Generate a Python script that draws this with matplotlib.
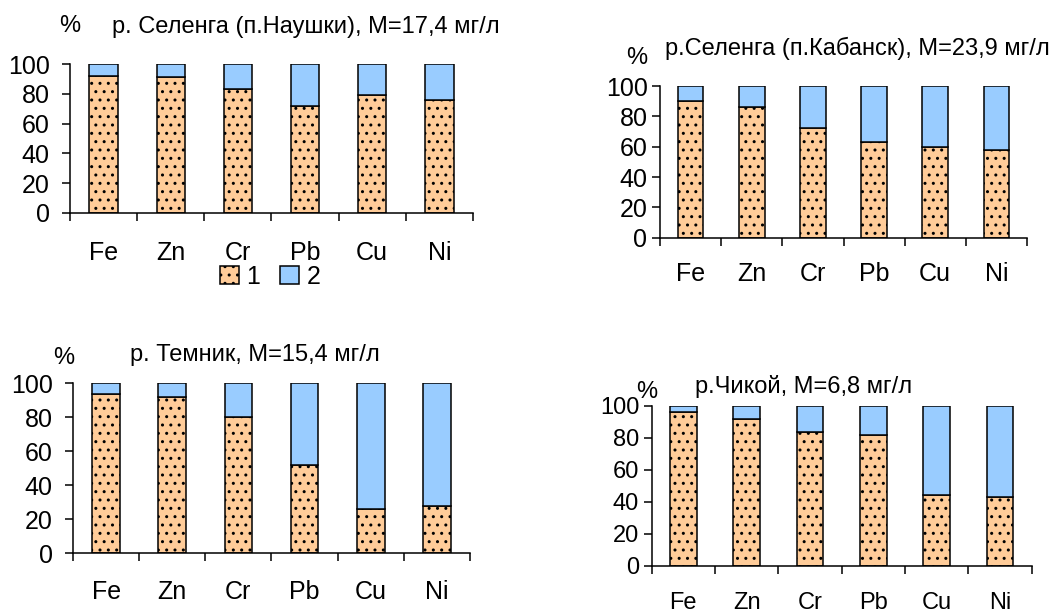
import numpy as np
import matplotlib
matplotlib.use('Agg')
import matplotlib.pyplot as plt
from matplotlib.patches import Patch

plt.rcParams['font.family'] = ['Liberation Sans', 'DejaVu Sans']
plt.rcParams['hatch.linewidth'] = 1.0

#elements on the x axis
elements = ['Fe', 'Zn', 'Cr', 'Pb', 'Cu', 'Ni']

#share of fraction 1 in %, fraction 2 is the rest up to 100
naushki1 = [92, 91, 83, 72, 79, 76]
kabansk1 = [90, 86, 72, 63, 60, 58]
temnik1 = [94, 92, 80, 52, 26, 28]
chikoy1 = [96, 92, 84, 82, 44, 43]

titles = ['р. Селенга (п.Наушки), М=17,4 мг/л',
          'р.Селенга (п.Кабанск), М=23,9 мг/л',
          'р. Темник, М=15,4 мг/л',
          'р.Чикой, М=6,8 мг/л']

legend_labels = ['1', '2']

orange = '#FFCC99'
blue = '#99CCFF'

W = 1064.0
H = 613.0

#axes boxes in pixels: left, right, top, bottom
boxes = [(70, 473, 64, 213),
         (660, 1027, 86, 237.7),
         (73, 470, 383.3, 553.3),
         (651.7, 1031.7, 406, 565.7)]
ypads = [8.6, 3, 8.6, 3]
xpads = [20, 17.5, 19.5, 19]
tsize = [18, 18, 18, 17]

#title and % positions in pixels (left x, baseline y)
title_pos = [(112, 33), (665, 55), (130, 361), (695, 393)]
pct_pos = [(59, 32), (626, 64), (53, 364), (636, 398)]

fig = plt.figure(figsize=(W / 100, H / 100), dpi=100)

data = [naushki1, kabansk1, temnik1, chikoy1]
x = np.arange(len(elements))

for i in range(4):
    l, r, t, b = boxes[i]
    ax = fig.add_axes([l / W, 1 - b / H, (r - l) / W, (b - t) / H])
    f1 = np.array(data[i])
    f2 = 100 - f1
    ax.bar(x, f1, width=0.42, color=orange, edgecolor='black', linewidth=1.1, hatch='..')
    ax.bar(x, f2, width=0.42, bottom=f1, color=blue, edgecolor='black', linewidth=1.1)
    ax.set_xlim(-0.5, 5.5)
    ax.set_ylim(0, 100)
    ax.spines['top'].set_visible(False)
    ax.spines['right'].set_visible(False)
    ax.spines['left'].set_linewidth(1.1)
    ax.spines['bottom'].set_linewidth(1.1)
    ax.set_yticks(np.arange(0, 101, 20))
    ax.tick_params(axis='y', labelsize=tsize[i], length=6, width=1.1, pad=ypads[i])
    #boundary ticks without labels, labels at bar centres
    ax.set_xticks(np.arange(-0.5, 6, 1.0))
    ax.set_xticklabels([])
    ax.set_xticks(x, minor=True)
    ax.set_xticklabels(elements, minor=True)
    ax.tick_params(axis='x', which='major', length=6, width=1.1)
    ax.tick_params(axis='x', which='minor', length=0, labelsize=tsize[i], pad=xpads[i])
    fig.text(title_pos[i][0] / W, 1 - title_pos[i][1] / H, titles[i],
             fontsize=17, ha='left', va='baseline')
    fig.text(pct_pos[i][0] / W, 1 - pct_pos[i][1] / H, '%',
             fontsize=17, ha='left', va='baseline')

handles = [Patch(facecolor=orange, edgecolor='black', hatch='..', linewidth=1.1),
           Patch(facecolor=blue, edgecolor='black', linewidth=1.1)]
fig.legend(handles, legend_labels, loc='center', bbox_to_anchor=(270 / W, 1 - 277 / H),
           ncol=2, frameon=False, fontsize=18, handlelength=0.75, handleheight=0.75,
           handletextpad=0.3, columnspacing=0.8, borderpad=0)

fig.savefig('out.png', dpi=100)
